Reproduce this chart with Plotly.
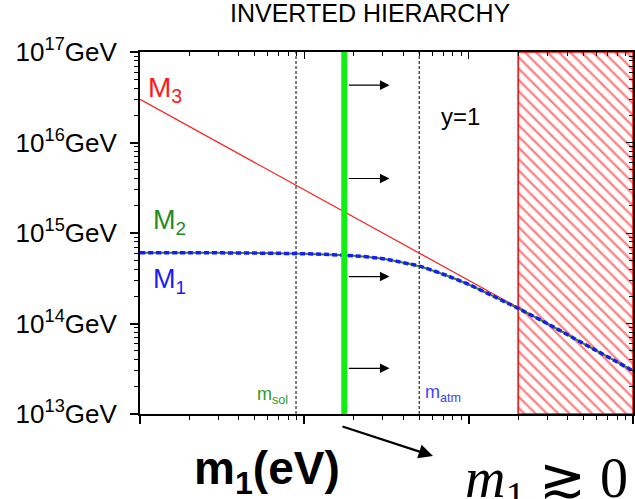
import math
import plotly.graph_objects as go

# Lightest neutrino mass m1 (eV) at which the heavy masses are sampled
m1_vals = [0.001, 0.002, 0.005, 0.01, 0.015, 0.02, 0.03, 0.04, 0.05,
           0.07, 0.1, 0.15, 0.2, 0.3, 0.5, 0.7, 1.0]
# Right-handed neutrino masses (GeV), y = 1
M1_vals = [6.05e14, 6.05e14, 6.0e14, 5.9e14, 5.75e14, 5.6e14, 5.2e14, 4.7e14,
           4.3e14, 3.5e14, 2.7e14, 1.9e14, 1.47e14, 1.0e14, 6.0e13, 4.3e13, 3.0e13]
M2_vals = [6.05e14, 6.05e14, 6.0e14, 5.9e14, 5.75e14, 5.6e14, 5.2e14, 4.7e14,
           4.3e14, 3.5e14, 2.7e14, 1.9e14, 1.47e14, 1.0e14, 6.0e13, 4.3e13, 3.0e13]
M3_m1 = [0.001, 1.0]
M3_vals = [3.0e16, 3.0e13]

m_sol = 0.0089          # eV
m_atm = 0.05            # eV
m1_bound = 0.0175       # eV, lower bound on m1
excluded = [0.2, 1.0]   # eV, excluded band
arrow_M = [4.3e16, 4.0e15, 3.3e14, 3.2e13]   # heights of the bound arrows (GeV)
arrow_tip = 0.033       # eV

y_range = [1e13, 1e17]
y_ticks = [1e13, 1e14, 1e15, 1e16, 1e17]
y_ticktext = ["10<sup>13</sup>GeV", "10<sup>14</sup>GeV", "10<sup>15</sup>GeV",
              "10<sup>16</sup>GeV", "10<sup>17</sup>GeV"]

SANS = "Liberation Sans, Arial, Helvetica, sans-serif"

fig = go.Figure()

# excluded band (hatched)
fig.add_trace(go.Scatter(
    x=[excluded[0], excluded[1], excluded[1], excluded[0], excluded[0]],
    y=[y_range[0], y_range[0], y_range[1], y_range[1], y_range[0]],
    mode="lines", fill="toself",
    line=dict(color="#ff0000", width=1.5),
    fillcolor="rgba(0,0,0,0)",
    fillpattern=dict(shape="\\", fgcolor="#ff0000", bgcolor="rgba(0,0,0,0)",
                     size=8, solidity=0.28),
    hoverinfo="skip", showlegend=False))

# m_sol and m_atm markers
for mv in (m_sol, m_atm):
    fig.add_trace(go.Scatter(
        x=[mv, mv], y=y_range, mode="lines",
        line=dict(color="black", width=1, dash="3px,2px"),
        hoverinfo="skip", showlegend=False))

# M3
fig.add_trace(go.Scatter(x=M3_m1, y=M3_vals, mode="lines",
                         line=dict(color="#ff1a1a", width=1.2),
                         showlegend=False))
# M2 (solid) and M1 (dashed)
fig.add_trace(go.Scatter(x=m1_vals, y=M2_vals, mode="lines",
                         line=dict(color="#228b22", width=2, shape="spline"),
                         showlegend=False))
fig.add_trace(go.Scatter(x=m1_vals, y=M1_vals, mode="lines",
                         line=dict(color="#1a1aff", width=3.5, dash="5px,3px",
                                   shape="spline"),
                         showlegend=False))

# lower bound on m1
fig.add_trace(go.Scatter(x=[m1_bound, m1_bound], y=y_range, mode="lines",
                         line=dict(color="#11ee11", width=6),
                         hoverinfo="skip", showlegend=False))

# holder trace for the top/right frame axes
fig.add_trace(go.Scatter(x=[0.01], y=[1e15], xaxis="x2", yaxis="y2",
                         mode="markers", marker=dict(opacity=0),
                         hoverinfo="skip", showlegend=False))

annotations = []
for yv in arrow_M:
    annotations.append(dict(
        x=math.log10(arrow_tip), y=math.log10(yv), xref="x", yref="y",
        ax=math.log10(m1_bound), ay=math.log10(yv), axref="x", ayref="y",
        showarrow=True, arrowhead=2, arrowsize=1.6, arrowwidth=1.2,
        arrowcolor="black", startstandoff=3, text=""))


def px_x(p):
    return (p - 140) / 493.0


def px_y(p):
    return (414 - p) / 362.0


annotations += [
    dict(text="INVERTED HIERARCHY", x=px_x(370), y=px_y(13), xref="paper",
         yref="paper", showarrow=False, xanchor="center", yanchor="middle",
         font=dict(family=SANS, size=25, color="black")),
    dict(text="y=1", x=px_x(460), y=px_y(116), xref="paper", yref="paper",
         showarrow=False, xanchor="center", yanchor="middle",
         font=dict(family=SANS, size=24, color="black")),
    dict(text="M<sub>3</sub>", x=px_x(146), y=px_y(89), xref="paper",
         yref="paper", showarrow=False, xanchor="left", yanchor="middle",
         font=dict(family=SANS, size=28, color="#ff1a1a")),
    dict(text="M<sub>2</sub>", x=px_x(151), y=px_y(222), xref="paper",
         yref="paper", showarrow=False, xanchor="left", yanchor="middle",
         font=dict(family=SANS, size=27, color="#228b22")),
    dict(text="M<sub>1</sub>", x=px_x(151), y=px_y(281), xref="paper",
         yref="paper", showarrow=False, xanchor="left", yanchor="middle",
         font=dict(family=SANS, size=27, color="#1a1aff")),
    dict(text="m<sub>sol</sub>", x=px_x(255), y=px_y(395), xref="paper",
         yref="paper", showarrow=False, xanchor="left", yanchor="middle",
         font=dict(family=SANS, size=18, color="#2a9a2a")),
    dict(text="m<sub>atm</sub>", x=px_x(423), y=px_y(393), xref="paper",
         yref="paper", showarrow=False, xanchor="left", yanchor="middle",
         font=dict(family=SANS, size=18, color="#4040ff")),
    dict(text="<b>m<sub>1</sub>(eV)</b>", x=px_x(267), y=px_y(471),
         xref="paper", yref="paper", showarrow=False, xanchor="center",
         yanchor="middle", font=dict(family=SANS, size=46, color="black")),
    dict(text="<i>m</i><sub>1</sub> \u2273 0", x=px_x(463), y=px_y(482),
         xref="paper", yref="paper", showarrow=False, xanchor="left",
         yanchor="middle",
         font=dict(family="Liberation Serif, DejaVu Serif, serif", size=56,
                   color="black")),
    # arrow pointing from the bound to the m1 > 0 note
    dict(x=px_x(433), y=px_y(456), xref="paper", yref="paper",
         ax=-92, ay=-30, showarrow=True, arrowhead=2, arrowsize=1.3,
         arrowwidth=2.2, arrowcolor="black", text=""),
]

axis_common = dict(type="log", showgrid=False, zeroline=False,
                   linecolor="black", tickcolor="black")

fig.update_layout(
    width=635, height=499,
    margin=dict(l=140, r=2, t=52, b=85),
    paper_bgcolor="white", plot_bgcolor="white",
    showlegend=False,
    xaxis=dict(**axis_common, range=[-3, 0], showline=True, linewidth=2,
               ticks="outside", ticklen=8, tickwidth=1.5, dtick=1,
               showticklabels=False,
               minor=dict(ticks="outside", ticklen=4, tickwidth=1,
                          tickcolor="black", dtick="D1", showgrid=False)),
    yaxis=dict(**axis_common, range=[13, 17], showline=True, linewidth=2,
               ticks="outside", ticklen=8, tickwidth=1.5,
               tickvals=y_ticks, ticktext=y_ticktext, ticklabelstandoff=8,
               tickfont=dict(family=SANS, size=26, color="black"),
               minor=dict(ticks="outside", ticklen=4, tickwidth=1,
                          tickcolor="black", dtick="D1", showgrid=False)),
    xaxis2=dict(**axis_common, range=[-3, 0], overlaying="x", side="top",
                anchor="y2", showline=True, linewidth=1.5, ticks="inside",
                ticklen=7, tickwidth=1.2, dtick=1, showticklabels=False,
                minor=dict(ticks="inside", ticklen=4, tickwidth=1,
                           tickcolor="black", dtick="D1", showgrid=False)),
    yaxis2=dict(**axis_common, range=[13, 17], overlaying="y", side="right",
                anchor="x2", showline=True, linewidth=1.5, ticks="inside",
                ticklen=7, tickwidth=1.2, dtick=1, showticklabels=False,
                minor=dict(ticks="inside", ticklen=4, tickwidth=1,
                           tickcolor="black", dtick="D1", showgrid=False)),
    annotations=annotations,
)

fig.write_html("out.html")
